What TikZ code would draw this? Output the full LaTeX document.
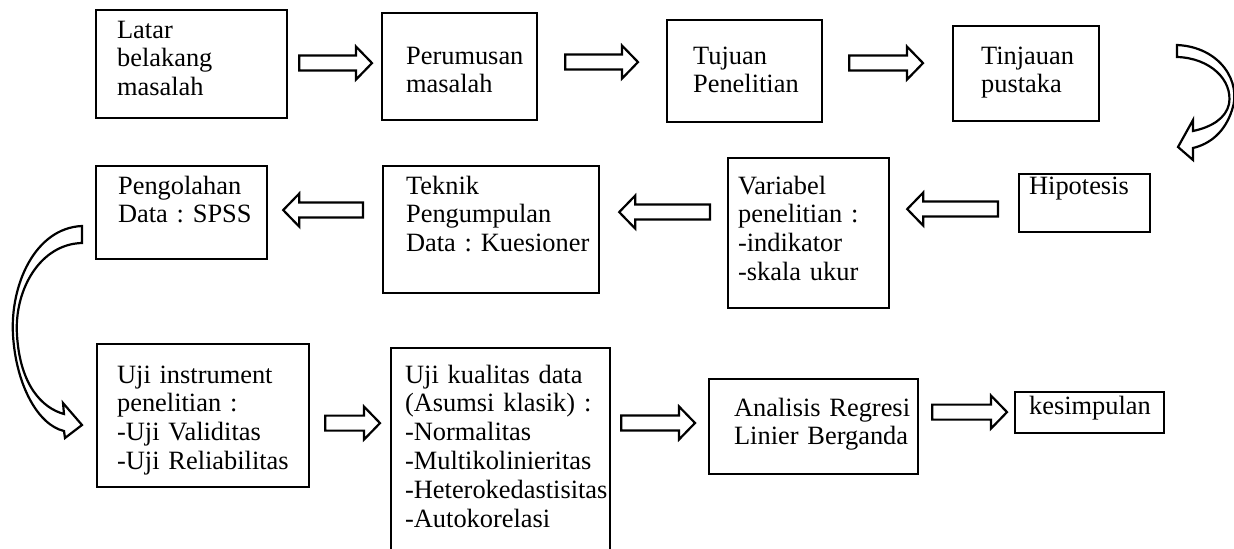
\documentclass[tikz,border=0pt]{standalone}
\usepackage{fontspec}
\setmainfont{Liberation Serif}
\usetikzlibrary{calc}

\newdimen\pxu
\pxu=0.5pt

\tikzset{
  stage/.style={draw, line width=1.1pt, anchor=north west, inner sep=0pt, align=left,
    font=\fontsize{13.2}{14.4}\selectfont\frenchspacing},
  % width, left inset, first baseline, height (px)
  boxdim/.style n args={4}{text width=#1*0.5pt, text height=#3*0.5pt, text depth=(#4-#3)*0.5pt,
    execute at begin node={\leftskip=#2\pxu \rightskip=0pt plus 1fil minus 40pt}},
  blockarr/.style={draw, line width=1.1pt, fill=white, line join=miter},
}

% hollow block arrow from tail to tip (horizontal)
\newcommand{\blockarrow}[2]{%
  \draw[blockarr] let \p1=(#1), \p2=(#2), \n1={sign(\x2-\x1)*8pt}, \n2={\x2-\n1} in
    (\x1,\y1+3.75pt) -- (\n2,\y1+3.75pt) -- (\n2,\y1+8.25pt)
    -- (\x2,\y1) -- (\n2,\y1-8.25pt) -- (\n2,\y1-3.75pt)
    -- (\x1,\y1-3.75pt) -- cycle;}

\begin{document}
\begin{tikzpicture}[x=0.5pt, y=-0.5pt]
  \useasboundingbox (0,0) rectangle (1234,549);

  % first row
  \node[stage, boxdim={191}{21}{28}{108}] (latar) at (95,9) {Latar\\belakang\\masalah};
  \node[stage, boxdim={155}{24}{51}{107}] (perum) at (381,12) {Perumusan\\masalah};
  \node[stage, boxdim={155}{26}{44}{102}] (tujuan) at (666,19) {Tujuan\\Penelitian};
  \node[stage, boxdim={146}{28}{38}{95}] (tinjau) at (952,25) {Tinjauan\\pustaka};

  % second row
  \node[stage, boxdim={131}{10}{20}{58}] (hipo) at (1018,173) {Hipotesis};
  \node[stage, boxdim={161}{10}{36}{150}] (var) at (727,157) {Variabel\\penelitian :\\-indikator\\-skala ukur};
  \node[stage, boxdim={216}{23}{28}{127}] (teknik) at (382,165) {Teknik\\Pengumpulan\\Data : Kuesioner};
  \node[stage, boxdim={171}{22}{28}{93}] (olah) at (95,165) {Pengolahan\\Data : SPSS};

  % third row
  \node[stage, boxdim={212}{20}{39}{143}] (ujiins) at (96,343) {Uji instrument\\penelitian :\\-Uji Validitas\\-Uji Reliabilitas};
  \node[stage, boxdim={219}{14}{35}{215}] (ujikual) at (390,347) {Uji kualitas data\\(Asumsi klasik) :\\-Normalitas\\-Multikolinieritas\\\mbox{-Heterokedastisitas}\\-Autokorelasi};
  \node[stage, boxdim={209}{25}{37}{95}] (anal) at (708,378) {Analisis Regresi\\Linier Berganda};
  \node[stage, boxdim={149}{14}{22}{41}] (kesim) at (1014,391) {kesimpulan};

  % straight arrows
  \blockarrow{$(latar.east)+(11,-1)$}{$(perum.west)+(-9,0)$}
  \blockarrow{$(perum.east)+(27,-4.5)$}{$(tujuan.west)+(-28,0)$}
  \blockarrow{$(tujuan.east)+(26,-8)$}{$(tinjau.west)+(-29,0)$}
  \blockarrow{$(hipo.west)+(-20,6)$}{$(var.east)+(17,0)$}
  \blockarrow{$(var.west)+(-17,-21)$}{$(teknik.east)+(19,0)$}
  \blockarrow{$(teknik.west)+(-19,-19.5)$}{$(olah.east)+(15,0)$}
  \blockarrow{$(ujiins.east)+(15,7.5)$}{$(ujikual.west)+(-10,0)$}
  \blockarrow{$(ujikual.north east)+(10,76)$}{$(anal.west)+(-13,0)$}
  \blockarrow{$(anal.east)+(13,-14.5)$}{$(kesim.west)+(-7,0)$}

  % curved arrows
  \draw[blockarr] (1177,45) .. controls (1220,47) and (1242,82) .. (1232,110)
    .. controls (1225,132) and (1210,144) .. (1193,148)
    -- (1193,160) -- (1178,147) -- (1193,120) -- (1193,131)
    .. controls (1212,127) and (1226,118) .. (1229,104)
    .. controls (1233,80) and (1210,58) .. (1177,57) -- cycle;
  \draw[blockarr] (82,226) .. controls (35,228) and (10,285) .. (13,335)
    .. controls (16,385) and (38,425) .. (64,431)
    -- (65,438) -- (82,425) -- (63,403) -- (64,414)
    .. controls (42,408) and (20,385) .. (17,335)
    .. controls (14,290) and (40,244) .. (82,243) -- cycle;
\end{tikzpicture}
\end{document}
